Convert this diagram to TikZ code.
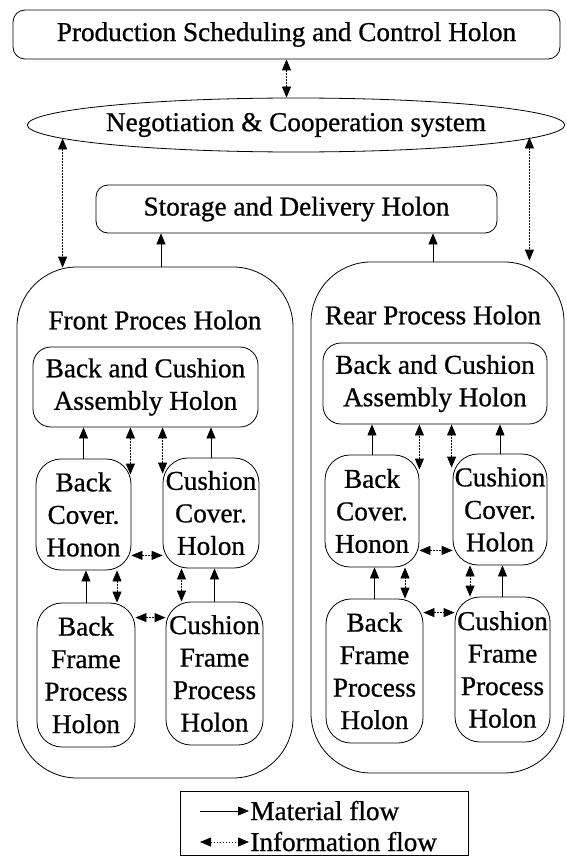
\documentclass[tikz,border=0pt]{standalone}
\usepackage{fontspec}
\setmainfont{Liberation Serif}[FakeBold=0.8]
\usetikzlibrary{arrows.meta,shapes.geometric,calc}
\begin{document}
\begin{tikzpicture}[x=1pt,y=-1pt,line width=0.8pt,
  every node/.style={font=\fontsize{27.2}{32.5}\selectfont},
  rbox/.style={draw,rounded corners=#1,inner sep=0pt,align=center},
  rbox/.default=12pt,
  mat/.style={-{Triangle[width=9pt,length=11pt]},line width=0.8pt},
  info/.style={{Triangle[width=9pt,length=11pt]}-{Triangle[width=9pt,length=11pt]},line width=0.8pt,dash pattern=on 1.5pt off 1.5pt}]
\useasboundingbox (0,0) rectangle (567,856);

% top level
\node[rbox=12pt,minimum width=547pt,minimum height=49pt] (psc) at (286.5,34.5) {Production Scheduling and Control Holon};
\node[draw,ellipse,inner sep=0pt,minimum width=532pt,minimum height=54pt] (neg) at (296,125) {Negotiation \& Cooperation system};
\node[rbox=12pt,minimum width=401pt,minimum height=48pt] (st) at (296.5,209) {Storage and Delivery Holon};

% containers
\node[rbox=60pt,minimum width=276pt,minimum height=511pt] (fr) at (155,522.5) {};
\node (frt) at (155,320) {Front Proces Holon};
\node[rbox=60pt,minimum width=253pt,minimum height=511pt] (rr) at (437.5,517.5) {};
\node (rrt) at (433,315) {Rear Process Holon};

% front inner
\node[rbox=18pt,minimum width=225pt,minimum height=80pt] (asmF) at (145.5,387) {Back and Cushion\\Assembly Holon};
\node[rbox=25pt,minimum width=95pt,minimum height=111pt] (bcF) at (83.5,514.5) {Back\\Cover.\\Honon};
\node[rbox=25pt,minimum width=96pt,minimum height=110pt] (ccF) at (211,513) {Cushion\\Cover.\\Holon};
\node[rbox=25pt,minimum width=98pt,minimum height=144pt] (bfF) at (86,675) {Back\\Frame\\Process\\Holon};
\node[rbox=25pt,minimum width=97pt,minimum height=143pt] (cfF) at (214.5,673.5) {Cushion\\Frame\\Process\\Holon};

% rear inner
\node[rbox=18pt,minimum width=224pt,minimum height=81pt] (asmR) at (435,383.5) {Back and Cushion\\Assembly Holon};
\node[rbox=25pt,minimum width=94pt,minimum height=112pt] (bcR) at (372,511) {Back\\Cover.\\Honon};
\node[rbox=25pt,minimum width=94pt,minimum height=111pt] (ccR) at (500,509.5) {Cushion\\Cover.\\Holon};
\node[rbox=25pt,minimum width=97pt,minimum height=144pt] (bfR) at (374.5,671) {Back\\Frame\\Process\\Holon};
\node[rbox=25pt,minimum width=95pt,minimum height=145pt] (cfR) at (502.5,669.5) {Cushion\\Frame\\Process\\Holon};

% top-level connectors
\draw[info] (psc.south) -- (psc.south |- neg.north);
\draw[info] ([xshift=46pt,yshift=14pt]fr.north west |- neg.south) -- ([xshift=46pt,yshift=-1pt]fr.north west);
\draw[info] ([xshift=-35pt,yshift=15pt]rr.north east |- neg.south) -- ([xshift=-35pt,yshift=1pt]rr.north east);
\draw[mat] ([xshift=6pt]fr.north) -- ([xshift=6pt]fr.north |- st.south);
\draw[mat] ([xshift=-4.5pt]rr.north) -- ([xshift=-4.5pt]rr.north |- st.south);

% front connectors
\draw[mat] (bcF.north) -- (bcF.north |- asmF.south);
\draw[info] ([xshift=-1pt,yshift=-16pt]bcF.north east) -- ([xshift=-1pt]bcF.north east |- asmF.south);
\draw[info] ([yshift=-16pt]ccF.north west) -- (ccF.north west |- asmF.south);
\draw[mat] (ccF.north) -- (ccF.north |- asmF.south);
\draw[info] ([yshift=15pt]bcF.south east) -- ([yshift=15pt]bcF.south east -| ccF.west);
\draw[mat] (bfF.north) -- (bfF.north |- bcF.south);
\draw[info] ([xshift=31pt]bfF.north) -- ([xshift=31pt]bfF.north |- bcF.south);
\draw[info] ([xshift=-33pt]cfF.north) -- ([xshift=-33pt]cfF.north |- ccF.south);
\draw[mat] (cfF.north) -- (cfF.north |- ccF.south);
\draw[info] ([yshift=-15pt]bfF.north east) -- ([yshift=-15pt]bfF.north east -| cfF.west);

% rear connectors
\draw[mat] (bcR.north) -- (bcR.north |- asmR.south);
\draw[info] ([yshift=-15pt]bcR.north east) -- (bcR.north east |- asmR.south);
\draw[info] ([xshift=-1pt,yshift=-14pt]ccR.north west) -- ([xshift=-1pt]ccR.north west |- asmR.south);
\draw[mat] (ccR.north) -- (ccR.north |- asmR.south);
\draw[info] ([yshift=17pt]bcR.south east) -- ([yshift=17pt]bcR.south east -| ccR.west);
\draw[mat] (bfR.north) -- (bfR.north |- bcR.south);
\draw[info] ([xshift=30.5pt]bfR.north) -- ([xshift=30.5pt]bfR.north |- bcR.south);
\draw[info] ([xshift=-32.5pt]cfR.north) -- ([xshift=-32.5pt]cfR.north |- ccR.south);
\draw[mat] (cfR.north) -- (cfR.north |- ccR.south);
\draw[info] ([yshift=-14pt]bfR.north east) -- ([yshift=-14pt]bfR.north east -| cfR.west);

% legend
\node[draw,inner sep=0pt,minimum width=288pt,minimum height=64pt] (lg) at (324,823) {};
\coordinate (m1) at (200,811);
\coordinate (m2) at (249,811);
\coordinate (i1) at (200,842);
\coordinate (i2) at (249,842);
\draw[mat] (m1) -- (m2);
\draw[info] (i1) -- (i2);
\node[anchor=base west,inner sep=0pt] (mt) at (250,820) {Material flow};
\node[anchor=base west,inner sep=0pt] (it) at (250,851) {Information flow};
\end{tikzpicture}
\end{document}
